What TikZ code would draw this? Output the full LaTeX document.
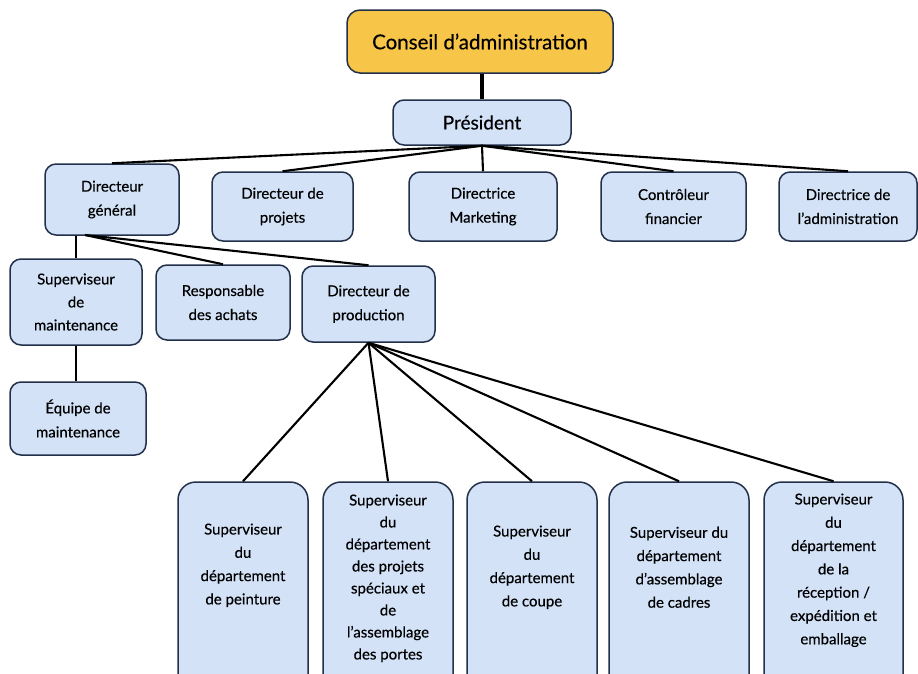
\documentclass[tikz,border=0pt]{standalone}
\usepackage{fontspec}
\setmainfont{Lato}[FakeBold=0.4]
\usetikzlibrary{calc}
\definecolor{boardfill}{HTML}{F7C548}
\definecolor{boxfill}{HTML}{D3E2F7}
\definecolor{edge}{HTML}{22304A}
\tikzset{
  box/.style={draw=edge, line width=1.5pt, fill=boxfill, rounded corners=11pt, align=center,
    inner sep=0pt, font=\fontsize{15}{24}\selectfont, text=black},
  bigbox/.style={box, rounded corners=18pt},
  txt/.style={align=center, inner sep=0pt, font=\fontsize{15}{23.3}\selectfont, text=black},
  link/.style={draw=black, line width=2.1pt},
}
\begin{document}
\begin{tikzpicture}[x=1pt,y=-1pt]
\clip (0,0) rectangle (918,673);
\fill[white] (0,0) rectangle (918,673);
\coordinate (dgb) at (85,235);
% nodes
\node[box, fill=boardfill, minimum width=266pt, minimum height=63pt, rounded corners=13pt,
  font=\fontsize{20.5}{24}\selectfont] (ca) at (480,41.5) {Conseil d’administration};
\node[box, minimum width=178pt, minimum height=45pt, font=\fontsize{19}{22}\selectfont] (pres) at (482,122.5) {Président};
\node[box, minimum width=134pt, minimum height=71pt] (dg) at (112,199.5) {Directeur\\général};
\node[box, minimum width=141pt, minimum height=69pt] (dp) at (282.5,206.5) {Directeur de\\projets};
\node[box, minimum width=148pt, minimum height=69pt] (dm) at (483,206.5) {Directrice\\Marketing};
\node[box, minimum width=145pt, minimum height=69pt] (cf) at (673.5,206.5) {Contrôleur\\financier};
\node[box, minimum width=138pt, minimum height=69pt] (da) at (848,206.5) {Directrice de\\l’administration};
\node[box, minimum width=132pt, minimum height=86pt, font=\fontsize{15}{23}\selectfont] (sm) at (76,302) {Superviseur\\de\\maintenance};
\node[box, minimum width=134pt, minimum height=75pt] (ra) at (223,302.5) {Responsable\\des achats};
\node[box, minimum width=133pt, minimum height=76pt] (prod) at (368.5,304) {Directeur de\\production};
\node[box, minimum width=136pt, minimum height=73pt] (eq) at (78,418.5) {Équipe de\\maintenance};
% bottom boxes
\node[bigbox, minimum width=130pt, minimum height=210pt] (b1) at (243,587) {};
\node[bigbox, minimum width=130pt, minimum height=210pt] (b2) at (388,587) {};
\node[bigbox, minimum width=130pt, minimum height=210pt] (b3) at (532,587) {};
\node[bigbox, minimum width=140pt, minimum height=210pt] (b4) at (679,587) {};
\node[bigbox, minimum width=139pt, minimum height=210pt] (b5) at (833.5,587) {};
\node[txt] (t1) at ($(b1.north)+(0,84)$) {Superviseur\\du\\département\\de peinture};
\node[txt, font=\fontsize{15}{22}\selectfont] (t2) at ($(b2.north)+(0,97)$) {Superviseur\\du\\département\\des projets\\spéciaux et\\de\\l’assemblage\\des portes};
\node[txt] (t3) at ($(b3.north)+(0,86)$) {Superviseur\\du\\département\\de coupe};
\node[txt] (t4) at ($(b4.north)+(0,86)$) {Superviseur du\\département\\d’assemblage\\de cadres};
\node[txt] (t5) at ($(b5.north)+(0,89)$) {Superviseur\\du\\département\\de la\\réception /\\expédition et\\emballage};
% connectors
\draw[link, line width=4pt] (pres.north |- ca.south) -- (pres.north);
\foreach \t in {dg,dp,dm,cf,da} \draw[link] (pres.south) -- (\t.north);
\draw[link] (sm.north |- dg.south) -- (sm.north);
\draw[link] (dgb) -- (ra.north);
\draw[link] (dgb) -- (prod.north);
\draw[link] (sm.south) -- (sm.south |- eq.north);
\foreach \t in {b1,b2,b3,b4,b5} \draw[link] (prod.south) -- (\t.north);
\end{tikzpicture}
\end{document}
